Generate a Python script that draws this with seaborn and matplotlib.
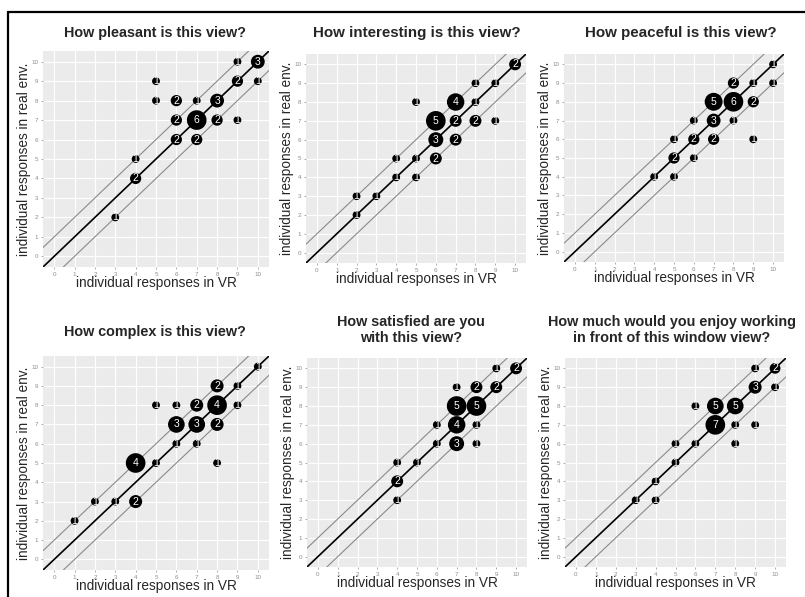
import pandas as pd
import matplotlib.pyplot as plt
import seaborn as sns
from matplotlib.lines import Line2D

# -----------------------------
# DATA  (score in VR, score in real env., number of participants)
# -----------------------------

titles = [
    'How pleasant is this view?',
    'How interesting is this view?',
    'How peaceful is this view?',
    'How complex is this view?',
    'How satisfied are you\nwith this view?',
    'How much would you enjoy working\nin front of this window view?',
]

pleasant_vr   = [3, 4, 4, 5, 5, 6, 6, 6, 7, 7, 7, 8, 8, 9, 9, 9, 10, 10]
pleasant_real = [2, 4, 5, 8, 9, 6, 7, 8, 6, 7, 8, 7, 8, 7, 9, 10, 9, 10]
pleasant_n    = [1, 2, 1, 1, 1, 2, 2, 2, 2, 6, 1, 2, 3, 1, 2, 1, 1, 3]

interesting_vr   = [2, 2, 3, 4, 4, 5, 5, 5, 6, 6, 6, 7, 7, 7, 8, 8, 8, 9, 9, 10]
interesting_real = [2, 3, 3, 4, 5, 4, 5, 8, 5, 6, 7, 6, 7, 8, 7, 8, 9, 7, 9, 10]
interesting_n    = [1, 1, 1, 1, 1, 1, 1, 1, 2, 3, 5, 2, 2, 4, 2, 1, 1, 1, 1, 2]

peaceful_vr   = [4, 5, 5, 5, 6, 6, 6, 7, 7, 7, 8, 8, 8, 9, 9, 9, 10, 10]
peaceful_real = [4, 4, 5, 6, 5, 6, 7, 6, 7, 8, 7, 8, 9, 6, 8, 9, 9, 10]
peaceful_n    = [1, 1, 2, 1, 1, 2, 1, 2, 3, 5, 1, 6, 2, 1, 2, 1, 1, 1]

complex_vr   = [1, 2, 3, 4, 4, 5, 5, 6, 6, 6, 7, 7, 7, 8, 8, 8, 8, 9, 9, 10]
complex_real = [2, 3, 3, 3, 5, 5, 8, 6, 7, 8, 6, 7, 8, 5, 7, 8, 9, 8, 9, 10]
complex_n    = [1, 1, 1, 2, 4, 1, 1, 1, 3, 1, 1, 3, 2, 1, 2, 4, 2, 1, 1, 1]

satisfied_vr   = [4, 4, 4, 5, 6, 6, 7, 7, 7, 7, 8, 8, 8, 8, 9, 9, 10]
satisfied_real = [3, 4, 5, 5, 6, 7, 6, 7, 8, 9, 6, 7, 8, 9, 9, 10, 10]
satisfied_n    = [1, 2, 1, 1, 1, 1, 3, 4, 5, 1, 1, 1, 5, 2, 2, 1, 2]

working_vr   = [3, 4, 4, 5, 5, 6, 6, 7, 7, 8, 8, 8, 9, 9, 9, 10, 10]
working_real = [3, 3, 4, 5, 6, 6, 8, 7, 8, 6, 7, 8, 7, 9, 10, 9, 10]
working_n    = [1, 1, 1, 1, 1, 1, 1, 7, 5, 1, 1, 5, 1, 3, 1, 1, 2]

panels = [
    (pleasant_vr, pleasant_real, pleasant_n),
    (interesting_vr, interesting_real, interesting_n),
    (peaceful_vr, peaceful_real, peaceful_n),
    (complex_vr, complex_real, complex_n),
    (satisfied_vr, satisfied_real, satisfied_n),
    (working_vr, working_real, working_n),
]

ticks = list(range(0, 11))

# -----------------------------
# LAYOUT (pixels: left, top, right, bottom) and title centres
# -----------------------------

W, H = 805, 597
boxes = [
    (43, 51, 269, 267),
    (306, 54, 526, 263),
    (564, 54, 784, 262),
    (43, 356, 269, 570),
    (307, 358, 527, 567),
    (565, 358, 786, 567),
]
title_pos = [(155, 33), (417, 33), (681, 33), (155, 332), (411, 330), (672, 330)]
title_size = [10.4, 10.9, 10.9, 10.4, 10.4, 10.4]

# -----------------------------
# STYLE
# -----------------------------

sns.set_theme(style='darkgrid', rc={
    'axes.facecolor': '#EBEBEB',
    'grid.color': 'white',
    'grid.linewidth': 0.8,
    'xtick.color': '#8C8C8C',
    'ytick.color': '#8C8C8C',
})
plt.rcParams['font.family'] = ['Liberation Sans', 'DejaVu Sans']

fig = plt.figure(figsize=(W / 100, H / 100), dpi=100)

for (vr, real, n), box, title, tpos, tsize in zip(panels, boxes, titles,
                                                  title_pos, title_size):
    l, t, r, b = box
    ax = fig.add_axes([l / W, 1 - b / H, (r - l) / W, (b - t) / H])

    df = pd.DataFrame({'vr': vr, 'real': real, 'n': n})

    # reference lines y = x and y = x +/- 1
    ax.axline((0, 1), slope=1, color='#8A8A8A', lw=0.8, zorder=1)
    ax.axline((0, -1), slope=1, color='#8A8A8A', lw=0.8, zorder=1)
    ax.axline((0, 0), slope=1, color='black', lw=1.2, zorder=1)

    sns.scatterplot(data=df, x='vr', y='real', size='n', sizes=(32, 200),
                    color='black', linewidth=0, legend=False, ax=ax, zorder=3)

    for _, row in df.iterrows():
        ax.text(row['vr'], row['real'], str(row['n']), color='white',
                fontsize=7.5, ha='center', va='center', zorder=4)

    ax.set_xlim(-0.55, 10.55)
    ax.set_ylim(-0.55, 10.55)
    ax.set_xticks(ticks)
    ax.set_yticks(ticks)
    ax.tick_params(labelsize=4.5, length=1.5, width=0.5, pad=2,
                   bottom=True, left=True)
    ax.set_xlabel('individual responses in VR', fontsize=9.8, labelpad=-0.8)
    ax.set_ylabel('individual responses in real env.', fontsize=9.8, labelpad=0)
    for s in ax.spines.values():
        s.set_visible(False)

    fig.text(tpos[0] / W, 1 - tpos[1] / H, title, fontsize=tsize,
             fontweight='bold', ha='center', va='center', linespacing=1.1)

# frame around the figure (left and top edges visible)
fig.add_artist(Line2D([8 / W, 8 / W], [0, 1 - 12 / H], color='black', lw=1.6))
fig.add_artist(Line2D([8 / W, 1], [1 - 12 / H, 1 - 12 / H], color='black', lw=1.6))

plt.savefig('out.png', dpi=100)
plt.close()
